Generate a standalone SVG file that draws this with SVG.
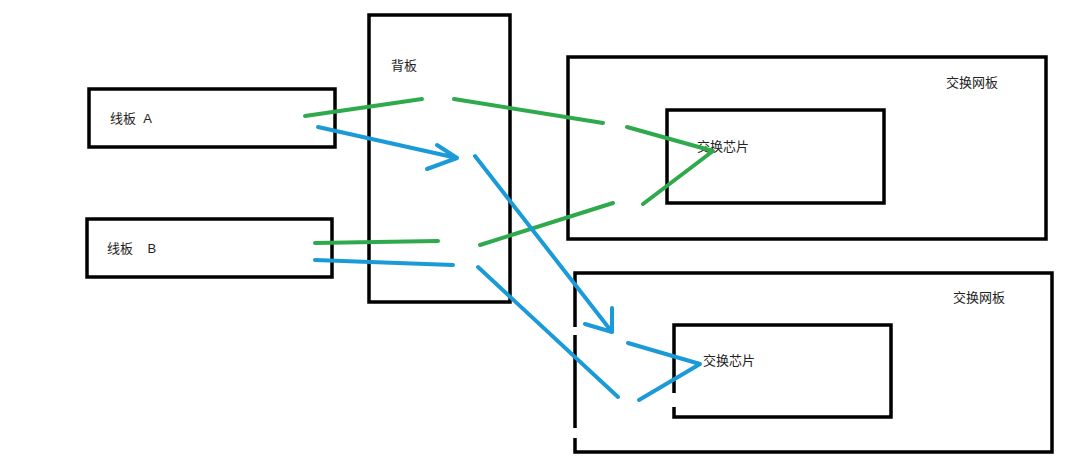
<svg xmlns="http://www.w3.org/2000/svg" width="1080" height="463" viewBox="0 0 1080 463">
<style>
.box{fill:none;stroke:#000;stroke-width:3.5}
.t{font-family:"Liberation Sans","Noto Sans CJK SC",sans-serif;font-size:13px;fill:#222;white-space:pre}
.g{fill:none;stroke:#2eaa4c;stroke-width:4;stroke-linecap:round;stroke-linejoin:round}
.b{fill:none;stroke:#1b9ad8;stroke-width:4;stroke-linecap:round;stroke-linejoin:round}
</style>
<rect width="1080" height="463" fill="#fff"/>
<g id="lineA"><rect class="box" x="89" y="89" width="246" height="58"/><text class="t" x="110" y="123" xml:space="preserve">线板  A</text></g>
<g id="lineB"><rect class="box" x="87" y="219" width="245" height="58"/><text class="t" x="107" y="253" xml:space="preserve">线板    B</text></g>
<g id="backplane"><rect class="box" x="369" y="15" width="141" height="287"/><text class="t" x="391" y="70">背板</text></g>
<g id="fabric1"><rect class="box" x="568" y="57" width="478" height="182"/><text class="t" x="946" y="87">交换网板</text></g>
<g id="chip1"><rect class="box" x="667" y="110" width="217" height="93"/><text class="t" x="697" y="151">交换芯片</text></g>
<g id="fabric2"><path class="box" d="M575,327 V273 H1052 V452 H575 V438 M575,428 V335"/><text class="t" x="953" y="302">交换网板</text></g>
<g id="chip2"><path class="box" d="M674,393 V325 H891 V417 H674 V407"/><text class="t" x="703" y="365">交换芯片</text></g>
<g id="connectors">
<path class="g" d="M305,116 L422,99"/>
<path class="g" d="M454,99 L603,123"/>
<path class="g" d="M627,127 L713,151 L643,204"/>
<path class="g" d="M315,243 L438,241"/>
<path class="g" d="M480,245 L613,203"/>
<path class="b" d="M318,127 L457,158 M437,145 L457,158 L427,169"/>
<path class="b" d="M315,260 L453,265"/>
<path class="b" d="M475,156 L612,332 M612,308 L612,332 L585,324"/>
<path class="b" d="M478,267 L618,397"/>
<path class="b" d="M628,343 L700,364 L639,400"/>
</g>
</svg>
